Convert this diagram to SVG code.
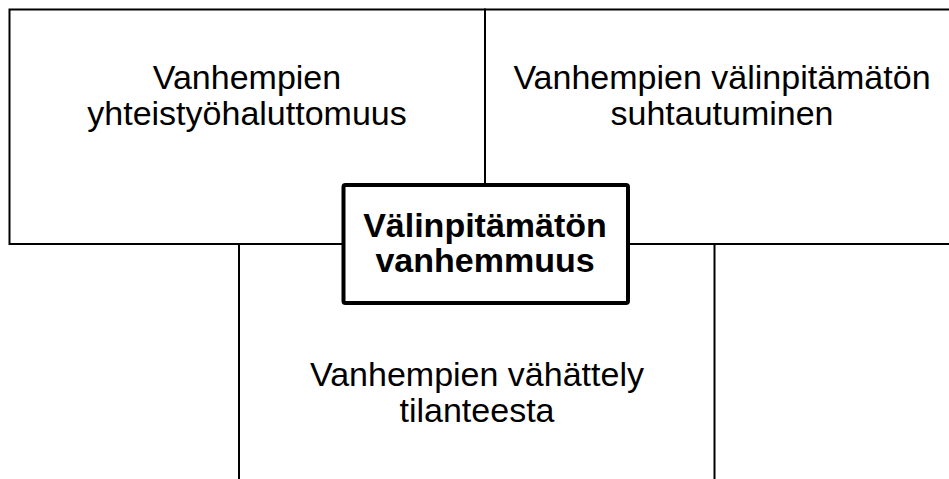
<svg xmlns="http://www.w3.org/2000/svg" width="949" height="479" viewBox="0 0 949 479">
<style>
.box{fill:#fff;stroke:#000;stroke-width:2}
.core{fill:#fff;stroke:#000;stroke-width:4}
.t{font-family:"Liberation Sans",Arial,sans-serif;font-size:34px;text-anchor:middle;fill:#000}
.b{font-weight:bold;font-size:34px}
</style>
<rect width="949" height="479" fill="#fff"/>
<g id="connectors"></g>
<g id="n1">
<rect class="box" x="9.5" y="9.5" width="475.5" height="234.5"/>
<text class="t" x="247" y="89">Vanhempien</text>
<text class="t" x="247" y="125">yhteistyöhaluttomuus</text>
</g>
<g id="n2">
<rect class="box" x="485" y="9.5" width="480" height="234.5"/>
<text class="t" x="722" y="89">Vanhempien välinpitämätön</text>
<text class="t" x="722" y="125">suhtautuminen</text>
</g>
<g id="n3">
<rect class="box" x="239" y="244" width="475.5" height="250"/>
<text class="t" x="477" y="386">Vanhempien vähättely</text>
<text class="t" x="477" y="422">tilanteesta</text>
</g>
<g id="n0">
<rect class="core" x="343.5" y="185" width="284.5" height="118" rx="2"/>
<text class="t b" x="485" y="237">Välinpitämätön</text>
<text class="t b" x="485" y="272">vanhemmuus</text>
</g>
</svg>
